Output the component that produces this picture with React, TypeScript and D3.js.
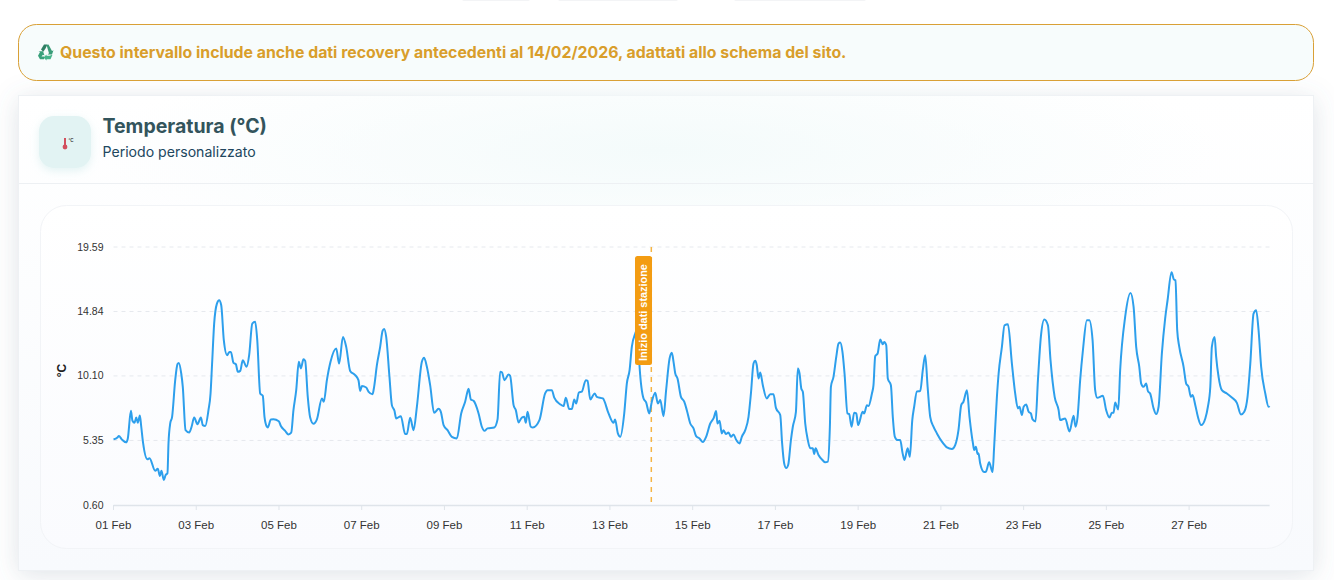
import React from "react";
import * as d3 from "d3";

const hours = [0,2.3,3.1,4.8,7.3,8.3,10.1,11,12.2,13.2,14.1,15.3,16.1,17.2,19.7,20.9,24.2,25.7,26.9,27.8,29.2,30.2,31.3,31.9,32.9,34,35.8,37.1,37.9,39.3,40.2,41.8,43.9,45.3,46.8,48.7,50.7,51.8,53.2,55.1,56.3,57.2,58.4,60,61.3,62.5,64,65.9,67.3,68.1,69.6,71,72.1,73.5,75,77.2,78.7,80.5,82.2,83.4,85.1,86.6,87.6,89,89.5,91.3,92.8,95.9,97.1,99.6,101.5,103.1,104.4,106,107.5,108.7,110.2,111.2,112.7,114.1,116,118,120.9,122,123.8,125.9,129.2,130.9,133.1,135,137.3,140.2,142.1,143.1,144.1,146.6,147.9,150.3,151.2,152.8,154.7,156.1,157,158.2,160.1,161.5,163,164,166.7,169.2,170.2,172.1,174.1,176,178.9,180.2,181.8,183.7,186,188.6,189.9,191.5,193.8,196.3,199.2,201.7,204,206,207.3,208.9,211.8,213.7,215.2,217,220.9,222.8,224.3,225.3,226.8,229.2,230.1,232.1,233.4,235,236.9,238.3,239.2,240.2,242.1,243.3,247.1,250.4,251.8,254.3,255.7,259.1,261.1,262.4,264.4,265.9,267.3,268.4,270,271.7,274,275,276.6,279.1,280.4,283.9,287.2,290.1,291,292.6,294,296.3,297.8,299.4,300.7,302.7,304,305.2,307.5,309,310.8,312.3,314.3,315.8,317.2,319.1,320.6,322.6,323.9,324.9,325.9,327.2,329.2,331.1,332.6,334.6,336.5,338,340,341.9,343.8,346.2,348.1,349.6,350.4,351.6,352.9,353.9,355.3,356.8,358.2,359.7,361.3,363.2,364.5,366.5,368.4,369.8,371.3,372.3,373.2,374.2,375.2,376.7,379,381,382.9,384.3,386.8,387.9,389.1,390.3,391.4,393,394.1,395.9,397,398,399,399.9,401.3,402.8,404.2,405.7,406.5,407.3,409,411.3,412.9,414.4,415.6,416.2,417.7,419.3,420.6,421.6,422.9,424.1,425.8,426.8,428.2,429.7,430.9,432,434.6,435.5,437.1,438,440,440.9,441.9,443.3,444.8,446.3,447.1,448.3,449.2,451,452.1,453.3,454.9,456.4,457.8,458.9,460.7,462,463.4,464.5,466.1,468,469.5,470.9,472.3,473.8,475.7,477.7,480.6,483.5,486.4,488.3,490.2,491.8,493.1,495.1,496.6,498.6,499.3,500.3,501.3,501.8,502.8,505.1,506.1,508,510,510.9,512.5,513.5,515.4,516.9,518.9,521.2,523.1,524.7,525.6,527,528,529.5,530.9,532.2,533.2,534.9,536.3,538,540,542.1,543.6,546,548.3,549.2,552.1,554.6,557,558.1,559.3,560.8,562.4,564.7,566.1,568,569.5,570.7,574,575.9,577.8,579.2,580.2,581.1,582.9,584,586.9,590,591.8,593.3,595.1,596.2,597.6,599.1,600.1,601.4,603.4,604.9,606.3,608.2,610.1,611.5,613.8,615.2,616.1,617.1,618.3,620.8,622.3,623.7,625,626,627.6,629.1,631,633.4,634.9,636.3,637.2,638.8,639.7,641.1,643,645.9,648.8,651.7,654.1,656,657.9,659.5,661.4,662.9,664.3,665.8,668.2,670.1,670.7];

const temps = [5.43,5.57,5.67,5.43,5.21,5.5,7.53,6.8,6.65,7.04,6.65,7.19,6.36,5.13,3.96,4.05,3.12,3.27,2.73,3.12,2.44,2.8,2.93,5.13,6.6,7.09,9.79,10.96,11.06,10.28,9.3,6.11,5.94,6.36,7.04,6.55,7.04,6.48,6.41,7.58,8.81,11.01,13.95,15.42,15.67,15.3,12.73,11.63,11.87,11.87,11.06,10.96,10.4,10.47,11.26,10.77,11.63,13.95,14.08,12.73,8.81,8.64,7.09,6.36,6.31,6.9,6.92,6.77,6.41,6.06,5.79,5.92,7.58,9.05,11.14,10.65,11.33,11.21,8.56,7.04,6.58,6.9,8.44,8.2,9.79,11.14,12.12,11.01,12.97,12.24,10.47,10.16,9.79,9,9.35,9.25,8.95,8.76,9.3,10.89,12.24,13.41,13.56,12.97,10.03,7.95,7.53,6.97,7.14,5.82,5.82,7.02,6.11,7.83,11.14,11.43,10.77,9.42,7.39,7.68,7.46,6.48,6.11,5.62,5.5,7.34,8.2,9.15,8.37,8.27,7.34,6.36,6.06,6.24,6.31,6.9,10.4,10.38,9.79,10.2,10.11,7.95,7.58,6.68,7.04,7.09,6.65,7.46,6.36,6.31,6.85,8.81,9.05,9.05,8.51,8.02,7.88,8.49,7.66,7.66,8.37,8.07,8.88,8.95,9.79,9.74,8.37,8.81,8.56,8.44,7.34,6.65,6.9,5.87,5.62,7.34,9.54,10.52,12.24,13.22,13.6,10.77,8.44,8.15,7.34,8.2,8.86,8.07,8.32,7.14,9.05,11.38,11.8,11.14,10.28,9.91,8.56,8.2,7.58,6.6,6.24,5.67,5.5,5.23,5.62,6.6,6.97,7.51,6.6,6.8,5.87,6.11,5.82,5.94,5.62,5.79,5.38,5.13,5.62,6.11,7.09,8.81,11.01,11.21,10.89,9.91,10.35,9.42,8.44,8.76,8.76,7.75,7.22,5.13,3.66,3.32,3.54,5.38,6.36,7.46,10.65,10.28,9.18,8.93,6.6,5.38,4.77,4.77,4.35,4.77,4.28,3.91,3.74,3.79,6.36,9.3,10.03,11.5,12.48,12.56,11.87,10.28,7.34,7.29,6.36,7.39,7.34,6.48,7.46,7.34,7.95,7.88,8.81,9.42,11.55,11.75,12.78,12.43,12.6,12.36,9.91,9.42,7.09,5.62,5.38,5.38,4.4,3.91,4.77,4.15,6.85,7.83,8.95,8.98,10.52,11.63,9.3,7.09,6.36,5.87,5.26,4.84,4.72,5.01,6.11,7.95,8.2,9.05,7.09,5.13,4.64,4.89,4.35,4.4,3.66,3.03,3.05,3.74,3.03,4.89,8.56,10.28,12.24,13.83,13.9,11.01,8.81,7.71,7.83,7.22,7.83,8,7.46,7.34,6.9,6.75,9.79,12.97,14.25,13.83,11.26,8.56,7.58,6.85,6.97,6.01,7.17,6.36,7.09,9.79,11.99,14.2,14.2,12.73,9.05,8.49,8.64,7.58,7.04,7.39,7.39,8.15,7.63,10.52,14.44,16.21,15.18,12.24,10.77,9.54,9.3,9.54,8.98,8.81,7.71,7.29,7.83,11.75,14.32,15.67,17.73,17.19,17.14,13.46,12.24,10.77,9.54,9.3,8.56,8.69,7.95,7.09,6.48,6.97,7.83,9.3,12.24,12.97,11.5,10.03,9.05,8.81,8.51,8.12,7.26,7.46,8.56,11.01,14.69,14.93,13.46,10.77,8.81,7.83,7.88];

const yTicks = [0.6, 5.35, 10.1, 14.84, 19.59];
const xTickDays = [1,3,5,7,9,11,13,15,17,19,21,23,25,27];
const markerDay = 14;
const monthLabel = "Feb";

const start = Date.UTC(2026, 1, 1);
const HOUR = 3600000;
const x = d3.scaleUtc().domain([new Date(start), new Date(start + 670.7 * HOUR)]).range([113.5, 1269.6]);
const y = d3.scaleLinear().domain([0.6, 19.59]).range([505, 247]);
const line = d3
  .line<number>()
  .x((_, i) => x(new Date(start + hours[i] * HOUR)))
  .y((d) => y(d))
  .curve(d3.curveMonotoneX);
const dayX = (d: number) => x(new Date(Date.UTC(2026, 1, d)));
const chartFont = "'Liberation Sans', Arial, sans-serif";
const uiFont = "Inter, 'Noto Sans', sans-serif";

export default function App() {
  const mx = dayX(markerDay);
  return (
    <svg width={1334} height={580} style={{ position: "absolute", left: 0, top: 0, display: "block" }}>
      <defs>
        <linearGradient id="card" x1="0" x2="0" y1="0" y2="1">
          <stop offset="0" stopColor="#ffffff" />
          <stop offset="1" stopColor="#f8fafd" />
        </linearGradient>
        <radialGradient id="glow" cx="0.5" cy="0.5" r="0.5">
          <stop offset="0" stopColor="#f4fbfb" />
          <stop offset="1" stopColor="#f4fbfb" stopOpacity="0" />
        </radialGradient>
        <linearGradient id="panel" x1="0" x2="0" y1="0" y2="1">
          <stop offset="0" stopColor="#ffffff" />
          <stop offset="1" stopColor="#fafbfe" />
        </linearGradient>
        <filter id="shadow" x="-5%" y="-15%" width="110%" height="130%">
          <feDropShadow dx="0" dy="4" stdDeviation="13" floodColor="#64748b" floodOpacity="0.2" />
        </filter>
        <filter id="iconShadow" x="-30%" y="-30%" width="160%" height="160%">
          <feDropShadow dx="0" dy="3" stdDeviation="4" floodColor="#b9e3e3" floodOpacity="0.4" />
        </filter>
      </defs>
      <rect width={1334} height={580} fill="#ffffff" />
      <rect x={462} y={-3} width={68} height={4} rx={2} fill="#f3f4f6" />
      <rect x={558} y={-3} width={120} height={4} rx={2} fill="#f3f4f6" />
      <rect x={734} y={-3} width={132} height={4} rx={2} fill="#f3f4f6" />

      <rect x={18.5} y={95.5} width={1295} height={475} fill="url(#card)" stroke="#eef1f4" filter="url(#shadow)" />
      <ellipse cx={660} cy={150} rx={560} ry={110} fill="url(#glow)" />
      <line x1={19} x2={1313} y1={183.5} y2={183.5} stroke="#edf0f3" />

      <rect x={18.5} y={24.5} width={1295} height={56} rx={18} fill="#f7fcfc" stroke="#d9a036" />
      <g transform="translate(45.5,52.5)">
        <path d="M-4.5,-3 L-1.5,-8 L2,-8 L0,-4 L-2.2,-0.8 Z" fill="#2f7f63" />
        <path d="M1,-7.5 L3,-8 L6.5,-1.5 L8,-2.3 L6.5,2 L2,2 L3.5,0.8 Z" fill="#3a9c78" />
        <path d="M7,2.2 L5,6.8 L1,6.8 L1,8 L-2,5 L1,2 L1,3.3 L4,3.3 Z" fill="#45b48a" />
        <path d="M-1.5,6.8 L-5.5,6.8 L-7.5,3.2 L-5.5,-0.5 L-7,-1.3 L-2.5,-1.3 L-1,3 L-2.6,2.2 L-4,4 L-1.5,4 Z" fill="#38a07a" />
      </g>
      <text x={60} y={58} fontFamily={uiFont} fontSize={15.84} fontWeight={700} fill="#d99e2b">
        Questo intervallo include anche dati recovery antecedenti al 14/02/2026, adattati allo schema del sito.
      </text>

      <rect x={39} y={116} width={52} height={52} rx={15} fill="#e2f3f3" filter="url(#iconShadow)" />
      <line x1={65} x2={65} y1={138} y2={146} stroke="#d2505f" strokeWidth={2} />
      <circle cx={65} cy={147} r={2.4} fill="#d2505f" />
      <text x={68.5} y={142} fontFamily={chartFont} fontSize={4.5} fontWeight={700} fill="#444">°C</text>

      <text x={102.5} y={133} fontFamily={uiFont} fontSize={19.5} fontWeight={700} fill="#33545c">Temperatura (°C)</text>
      <text x={102.5} y={157} fontFamily={uiFont} fontSize={14.1} fontWeight={400} fill="#21475e">Periodo personalizzato</text>

      <rect x={40.5} y={205.5} width={1252} height={343} rx={26} fill="url(#panel)" stroke="#f2f4f7" />

      {yTicks.slice(1).map((t) => (
        <line key={t} x1={113.5} x2={1269.6} y1={y(t)} y2={y(t)} stroke="#e6e9ee" strokeDasharray="4 4" />
      ))}
      <line x1={113.5} x2={1269.6} y1={505.5} y2={505.5} stroke="#dfe4ea" strokeWidth={1.5} />
      {xTickDays.map((d) => (
        <g key={d}>
          <line x1={dayX(d)} x2={dayX(d)} y1={505} y2={510} stroke="#dfe4ea" />
          <text x={dayX(d)} y={528.5} textAnchor="middle" fontFamily={chartFont} fontSize={11.5} fill="#333">
            {`${String(d).padStart(2, "0")} ${monthLabel}`}
          </text>
        </g>
      ))}
      {yTicks.map((t) => (
        <text key={t} x={103.5} y={y(t) + 3.5} textAnchor="end" fontFamily={chartFont} fontSize={10.5} fill="#333">
          {t.toFixed(2)}
        </text>
      ))}
      <text transform="translate(65.5,370.5) rotate(-90)" textAnchor="middle" fontFamily={chartFont} fontSize={12} fontWeight={700} fill="#222">°C</text>

      <line x1={mx} x2={mx} y1={247} y2={505} stroke="#f5b545" strokeWidth={1.5} strokeDasharray="5 5" />
      <path d={line(temps) ?? ""} fill="none" stroke="#2d9fec" strokeWidth={2} strokeLinejoin="round" />

      <rect x={635} y={256} width={17} height={109} rx={2.5} fill="#f39c12" />
      <text transform="translate(647,312.5) rotate(-90)" textAnchor="middle" fontFamily={chartFont} fontSize={10.9} fontWeight={700} fill="#ffffff">
        Inizio dati stazione
      </text>
    </svg>
  );
}
